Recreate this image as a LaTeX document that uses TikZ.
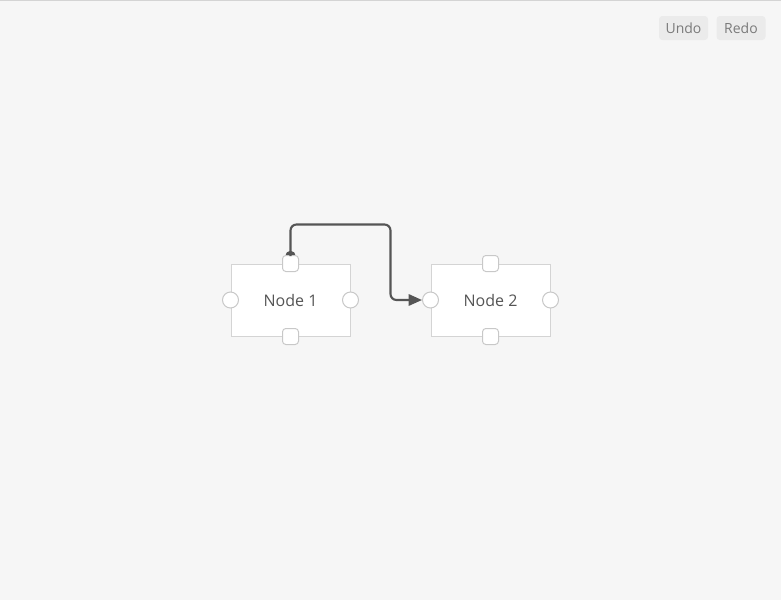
\documentclass[tikz,border=0pt]{standalone}
\usepackage{fontspec}
\setmainfont{Open Sans}
\usetikzlibrary{arrows.meta}
\definecolor{canvas}{HTML}{F6F6F6}
\definecolor{boxline}{HTML}{D4D4D4}
\definecolor{portline}{HTML}{C8C8C8}
\definecolor{nodetext}{HTML}{555555}
\definecolor{edgecol}{HTML}{555555}
\definecolor{btnfill}{HTML}{EBEBEB}
\definecolor{btntext}{HTML}{7A7A7A}
\tikzset{
  box/.style={draw=boxline,line width=0.75pt,fill=white,minimum width=89.25pt,
    minimum height=54pt,inner sep=0pt,text=nodetext,font=\fontsize{12}{14}\selectfont},
  sqport/.style={draw=portline,line width=0.75pt,fill=white,rounded corners=2.5pt,
    minimum size=12pt,inner sep=0pt},
  rdport/.style={draw=portline,line width=0.75pt,fill=white,circle,
    minimum size=12pt,inner sep=0pt},
  edge/.style={draw=edgecol,line width=1.6pt,rounded corners=4.5pt,
    -{Triangle[length=10pt,width=8.5pt]}},
  btn/.style={fill=btnfill,rounded corners=2.5pt,minimum width=36.75pt,
    minimum height=18pt,inner sep=0pt,text=btntext,font=\fontsize{10.5}{12}\selectfont}
}
\begin{document}
\begin{tikzpicture}[x=0.75pt,y=-0.75pt]
  \fill[canvas] (0,0) rectangle (781,600);
  \useasboundingbox (0,0) rectangle (781,600);
  \draw[boxline,line width=0.75pt] (0,0.5) -- (781,0.5);
  % buttons
  \node[btn] (undo) at (683.5,28) {Undo};
  \node[btn] (redo) at (741,28) {Redo};
  % nodes
  \node[box] (n1) at (290.5,300) {Node 1};
  \node[box] (n2) at (490.5,300) {Node 2};
  % connector
  \coordinate (turn) at (390.5,224.5);
  \coordinate (start) at (290.5,256);
  \fill[edgecol] (start) circle (3.9pt);
  \foreach \n in {n1,n2}{
    \node[sqport] (\n-t) at (\n.north) {};
    \node[sqport] (\n-b) at (\n.south) {};
    \node[rdport] (\n-l) at (\n.west) {};
    \node[rdport] (\n-r) at (\n.east) {};
  }
  \draw[edge] (start) |- (turn) |- (n2-l.west);
\end{tikzpicture}
\end{document}
